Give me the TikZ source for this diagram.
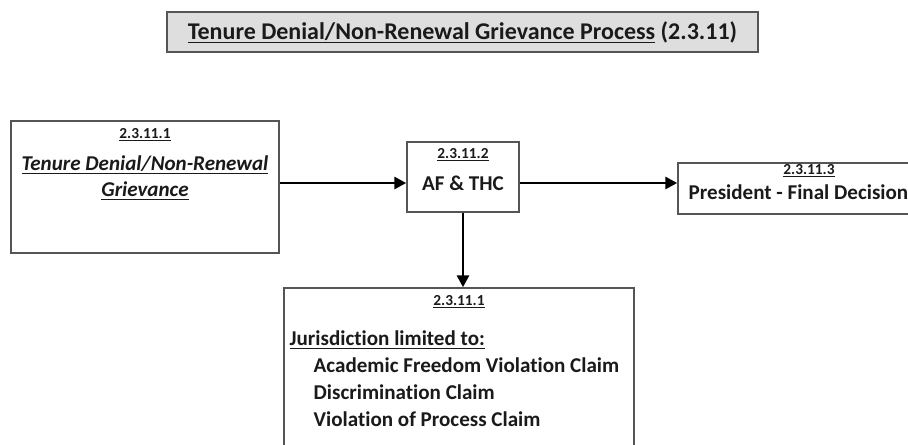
\documentclass[tikz,border=0pt]{standalone}
\usepackage{fontspec}
\setmainfont{Carlito}[RawFeature={-liga}]
\usetikzlibrary{arrows.meta}
\definecolor{framegray}{HTML}{555555}
\definecolor{titlefill}{HTML}{DEDEDE}
\definecolor{inkgray}{HTML}{1A1A1A}
\tikzset{
  panel/.style={draw=framegray, line width=1.1pt, fill=white, inner sep=0pt},
  secno/.style={font=\bfseries\fontsize{11.5}{13}\selectfont, text=inkgray},
  boxtext/.style={font=\bfseries\fontsize{15.8}{18}\selectfont, text=inkgray},
  flow/.style={line width=2.2pt, -{Triangle[length=9pt,width=9pt]}}
}
\newcommand{\ul}[1]{\underline{#1}}
\begin{document}
\begin{tikzpicture}[x=0.75pt, y=-0.75pt]
  \useasboundingbox (0,0) rectangle (908,444);

  % heading
  \node[draw=framegray, line width=1.1pt, fill=titlefill, minimum width=591*0.75pt, minimum height=40*0.75pt, inner sep=0pt] (title) at (462.5,32)
    {\bfseries\fontsize{18}{21}\selectfont\color{inkgray}\ul{Tenure Denial/Non-Renewal Grievance Process} (2.3.11)};

  % boxes
  \node[panel, minimum width=268*0.75pt, minimum height=132*0.75pt] (grv) at (145,187) {};
  \node[panel, minimum width=112*0.75pt, minimum height=70*0.75pt] (afthc) at (463,177) {};
  \node[panel, minimum width=262*0.75pt, minimum height=51*0.75pt] (pres) at (809,188.5) {};
  \node[panel, minimum width=350*0.75pt, minimum height=180*0.75pt] (jur) at (459,378) {};

  % texts in the boxes
  \node[secno] (grvno) at (145,135) {\ul{2.3.11.1}};
  \node[boxtext] (grvtxa) at (145,165) {\itshape\ul{Tenure Denial/Non-Renewal}};
  \node[boxtext] (grvtxb) at (145,191) {\itshape\ul{Grievance}};

  \node[secno] (afno) at (463,155) {\ul{2.3.11.2}};
  \node[boxtext] (aftx) at (463,183) {AF \& THC};

  \node[secno] (presno) at (809,171) {\ul{2.3.11.3}};
  \node[boxtext, anchor=west] (prestx) at (684,192) {President - Final Decision};

  \node[secno] (jurno) at (459,302) {\ul{2.3.11.1}};
  \node[boxtext, anchor=west] (jurhd) at (285,340) {\ul{Jurisdiction limited to:}};
  \node[boxtext, anchor=west] (jura) at (309,365) {Academic Freedom Violation Claim};
  \node[boxtext, anchor=west] (jurb) at (309,392) {Discrimination Claim};
  \node[boxtext, anchor=west] (jurc) at (309,419) {Violation of Process Claim};

  % arrows
  \coordinate (ar) at (463,183);
  \draw[flow] (grv.east |- ar) -- (afthc.west |- ar);
  \draw[flow] (afthc.east |- ar) -- (pres.west |- ar);
  \draw[flow] (afthc.south) -- (afthc.south |- jur.north);
\end{tikzpicture}
\end{document}
